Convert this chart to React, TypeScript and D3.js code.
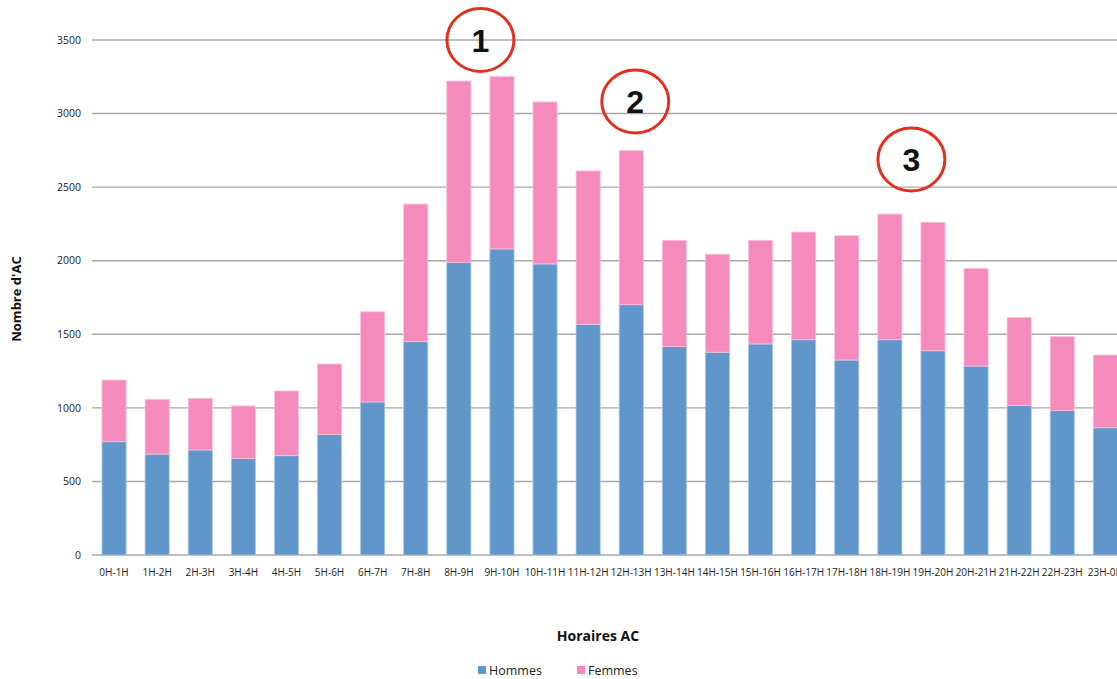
import React from "react";
import * as d3 from "d3";

const categories = [
  "0H-1H", "1H-2H", "2H-3H", "3H-4H", "4H-5H", "5H-6H", "6H-7H", "7H-8H",
  "8H-9H", "9H-10H", "10H-11H", "11H-12H", "12H-13H", "13H-14H", "14H-15H",
  "15H-16H", "16H-17H", "17H-18H", "18H-19H", "19H-20H", "20H-21H", "21H-22H",
  "22H-23H", "23H-0H",
];
const hommes = [770, 686, 714, 657, 675, 818, 1040, 1450, 1987, 2080, 1978, 1568, 1701, 1416, 1378, 1434, 1463, 1325, 1463, 1388, 1284, 1017, 981, 865];
const femmes = [419, 372, 351, 356, 440, 480, 613, 935, 1234, 1171, 1101, 1042, 1047, 723, 666, 705, 732, 845, 854, 873, 664, 598, 503, 494];
const yTicks = [0, 500, 1000, 1500, 2000, 2500, 3000, 3500];
const seriesNames = ["Hommes", "Femmes"];
const seriesColors = ["#6096c9", "#f58bbd"];
const seriesStrokes = ["#a9c8e8", "#fbc2dc"];
const annotations = [
  { label: "1", from: "8H-9H", to: "9H-10H", value: 3500 },
  { label: "2", from: "12H-13H", to: "12H-13H", value: 3082 },
  { label: "3", from: "18H-19H", to: "19H-20H", value: 2688 },
];

const W = 1117;
const H = 679;
const font = "'Open Sans', 'DejaVu Sans', sans-serif";

export default function App() {
  const x = d3
    .scaleBand<string>()
    .domain(categories)
    .range([92.5, 92.5 + 24 * 43.1])
    .paddingInner(0.44)
    .paddingOuter(0.22);
  const y = d3.scaleLinear().domain([0, 3500]).range([555, 40]);

  const rows = categories.map((c, i) => ({ cat: c, Hommes: hommes[i], Femmes: femmes[i] }));
  const stacked = d3.stack<any>().keys(seriesNames)(rows);

  const bw = x.bandwidth();
  const cx = (c: string) => (x(c) as number) + bw / 2;

  return (
    <svg width={W} height={H} style={{ position: "absolute", left: 0, top: 0, background: "#fff" }}>
      {yTicks.map((t) => (
        <g key={t}>
          <line x1={92} x2={W} y1={y(t)} y2={y(t)} stroke="#a8a8a8" strokeWidth={1.4} />
          <text x={81} y={y(t)} dy="0.35em" textAnchor="end" fontFamily={font} fontSize={10.5} fill="#222">
            {t}
          </text>
        </g>
      ))}
      {stacked.map((s, si) => (
        <g key={s.key}>
          {s.map((d, i) => (
            <rect
              key={i}
              x={x(categories[i])}
              width={bw}
              y={y(d[1])}
              height={y(d[0]) - y(d[1])}
              fill={seriesColors[si]}
              stroke={seriesStrokes[si]}
              strokeWidth={0.8}
            />
          ))}
        </g>
      ))}
      {categories.map((c) => (
        <text key={c} x={cx(c)} y={576} textAnchor="middle" fontFamily={font} fontSize={10} fill="#222">
          {c}
        </text>
      ))}
      <text
        transform={`translate(21,299) rotate(-90)`}
        textAnchor="middle"
        fontFamily={font}
        fontWeight="bold"
        fontSize={13}
        fill="#111"
      >
        Nombre d'AC
      </text>
      <text x={598} y={641} textAnchor="middle" fontFamily={font} fontWeight="bold" fontSize={14} fill="#111">
        Horaires AC
      </text>
      {seriesNames.map((n, i) => (
        <g key={n} transform={`translate(${[478, 577][i]},0)`}>
          <rect x={0} y={666} width={8} height={8} fill={seriesColors[i]} />
          <text x={11} y={675} fontFamily={font} fontSize={12.5} fill="#222">
            {n}
          </text>
        </g>
      ))}
      {annotations.map((a) => {
        const ax = (cx(a.from) + cx(a.to)) / 2 + (a.from === a.to ? 4 : 0);
        const ay = y(a.value);
        return (
          <g key={a.label}>
            <ellipse cx={ax} cy={ay} rx={33.5} ry={31.5} fill="none" stroke="#e0301e" strokeWidth={3} />
            <text
              x={ax}
              y={ay}
              dy="0.36em"
              textAnchor="middle"
              fontFamily="'Liberation Sans', Arial, sans-serif"
              fontWeight="bold"
              fontSize={32}
              fill="#111"
            >
              {a.label}
            </text>
          </g>
        );
      })}
    </svg>
  );
}
